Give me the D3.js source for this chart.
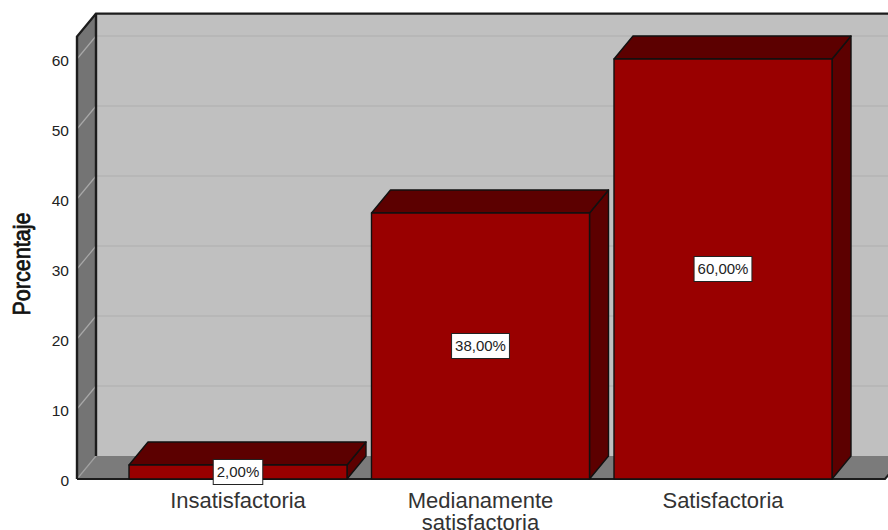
<!DOCTYPE html>
<html>
<head>
<meta charset="utf-8">
<script src="https://cdn.jsdelivr.net/npm/d3@7"></script>
<style>
  html, body { margin: 0; padding: 0; background: #fff; }
  svg { display: block; font-family: "Liberation Sans", Arial, sans-serif; }
  .tick-label { font-size: 15.5px; fill: #222; }
  .cat-label { font-size: 22px; fill: #333; }
  .axis-title { font-size: 24px; fill: #111; stroke: #111; stroke-width: 0.75px; }
  .bar-label { font-size: 15px; fill: #222; }
</style>
</head>
<body>
<div id="chart"></div>
<script>
const categories = [["Insatisfactoria"], ["Medianamente", "satisfactoria"], ["Satisfactoria"]];
const values = [2, 38, 60];
const valueLabels = ["2,00%", "38,00%", "60,00%"];
const yTicks = [0, 10, 20, 30, 40, 50, 60];

const width = 888, height = 530;
const depthX = 19, depthY = 23;   // oblique offset of the back plane
const left = 77, right = 885;

const svg = d3.select("#chart").append("svg")
    .attr("width", width)
    .attr("height", height);

const xScale = d3.scaleBand()
    .domain(d3.range(categories.length))
    .range([78, 883])
    .paddingInner(0.101)
    .paddingOuter(0.2103);

const yScale = d3.scaleLinear()
    .domain([0, 63.2])
    .range([479, 36.6]);

const y0 = yScale(0), yTop = yScale(63.2);
const poly = pts => pts.map(p => p.join(",")).join(" ");
const dark = "#1c1c1c";

// Back wall
svg.append("polygon")
    .attr("points", poly([[left + depthX, yTop - depthY], [right + depthX, yTop - depthY], [right + depthX, y0 - depthY], [left + depthX, y0 - depthY]]))
    .attr("fill", "#c0c0c0");

// Gridlines across the back wall
svg.selectAll("line.grid").data(yTicks.filter(d => d > 0)).enter().append("line")
    .attr("x1", left + depthX)
    .attr("x2", right + depthX)
    .attr("y1", d => yScale(d) - depthY)
    .attr("y2", d => yScale(d) - depthY)
    .attr("stroke", "#b4b4b4")
    .attr("stroke-width", 1.5);

// Floor
svg.append("polygon")
    .attr("points", poly([[left, y0], [left + depthX, y0 - depthY], [right + depthX, y0 - depthY], [right, y0]]))
    .attr("fill", "#7b7b7b");

// Left wall
svg.append("polygon")
    .attr("points", poly([[left, yTop], [left + depthX, yTop - depthY], [left + depthX, y0 - depthY], [left, y0]]))
    .attr("fill", "#747474");

// Gridlines running over the left wall
svg.selectAll("line.wall").data(yTicks.filter(d => d > 0)).enter().append("line")
    .attr("x1", left)
    .attr("x2", left + depthX)
    .attr("y1", d => yScale(d))
    .attr("y2", d => yScale(d) - depthY)
    .attr("stroke", "#a8a8a8")
    .attr("stroke-width", 1.2);

// Floor seam under the left wall
svg.append("line")
    .attr("x1", left).attr("x2", left + depthX)
    .attr("y1", y0).attr("y2", y0 - depthY)
    .attr("stroke", "#a0a0a0")
    .attr("stroke-width", 1.2);

// Edges of the frame
svg.append("polyline")
    .attr("points", poly([[left, y0], [left, yTop], [left + depthX, yTop - depthY], [right + depthX, yTop - depthY]]))
    .attr("fill", "none")
    .attr("stroke", dark)
    .attr("stroke-width", 2.4);
svg.append("line")
    .attr("x1", left + depthX).attr("x2", left + depthX)
    .attr("y1", yTop - depthY).attr("y2", y0 - depthY)
    .attr("stroke", dark)
    .attr("stroke-width", 2.4);
svg.append("polyline")
    .attr("points", poly([[left, y0], [right, y0], [right + depthX, y0 - depthY]]))
    .attr("fill", "none")
    .attr("stroke", dark)
    .attr("stroke-width", 2);

// Bars: side, top, then front face
const bars = svg.selectAll("g.bar").data(values).enter().append("g").attr("class", "bar");
const edge = sel => sel.attr("stroke", "#111").attr("stroke-width", 1.4).attr("stroke-linejoin", "round");

bars.append("polygon")
    .attr("points", (d, i) => {
        const x = xScale(i) + xScale.bandwidth(), y = yScale(d);
        return poly([[x, y], [x + depthX, y - depthY], [x + depthX, y0 - depthY], [x, y0]]);
    })
    .attr("fill", "#5c0000")
    .call(edge);

bars.append("polygon")
    .attr("points", (d, i) => {
        const x = xScale(i), w = xScale.bandwidth(), y = yScale(d);
        return poly([[x, y], [x + depthX, y - depthY], [x + w + depthX, y - depthY], [x + w, y]]);
    })
    .attr("fill", "#5c0000")
    .call(edge);

bars.append("rect")
    .attr("x", (d, i) => xScale(i))
    .attr("y", d => yScale(d))
    .attr("width", xScale.bandwidth())
    .attr("height", d => y0 - yScale(d))
    .attr("fill", "#990000")
    .call(edge);

// Value labels in white boxes
const labels = svg.selectAll("g.value").data(values).enter().append("g")
    .attr("class", "value")
    .attr("transform", (d, i) => `translate(${xScale(i) + xScale.bandwidth() / 2},${d < 5 ? y0 - 7 : yScale(d / 2)})`);

labels.append("text")
    .attr("class", "bar-label")
    .attr("text-anchor", "middle")
    .attr("dy", "0.36em")
    .text((d, i) => valueLabels[i]);

labels.insert("rect", "text")
    .each(function () {
        const b = this.parentNode.querySelector("text").getBBox();
        d3.select(this)
            .attr("x", b.x - 3.5)
            .attr("y", -12.5)
            .attr("width", b.width + 7)
            .attr("height", 25);
    })
    .attr("fill", "#fff")
    .attr("stroke", "#222")
    .attr("stroke-width", 1);

// Value axis labels
svg.selectAll("text.tick-label").data(yTicks).enter().append("text")
    .attr("class", "tick-label")
    .attr("x", left - 8)
    .attr("y", d => yScale(d) + 1)
    .attr("dy", "0.36em")
    .attr("text-anchor", "end")
    .text(d => d);

// Category labels, wrapped on two lines where needed
svg.selectAll("text.cat-label").data(categories).enter().append("text")
    .attr("class", "cat-label")
    .attr("text-anchor", "middle")
    .attr("y", 508)
    .each(function (d, i) {
        d3.select(this).selectAll("tspan").data(d).enter().append("tspan")
            .attr("x", xScale(i) + xScale.bandwidth() / 2)
            .attr("dy", (t, j) => j ? 22 : 0)
            .text(t => t);
    });

svg.append("text")
    .attr("class", "axis-title")
    .attr("text-anchor", "middle")
    .attr("textLength", 103)
    .attr("lengthAdjust", "spacingAndGlyphs")
    .attr("transform", "translate(29.5,264) rotate(-90)")
    .text("Porcentaje");
</script>
</body>
</html>
